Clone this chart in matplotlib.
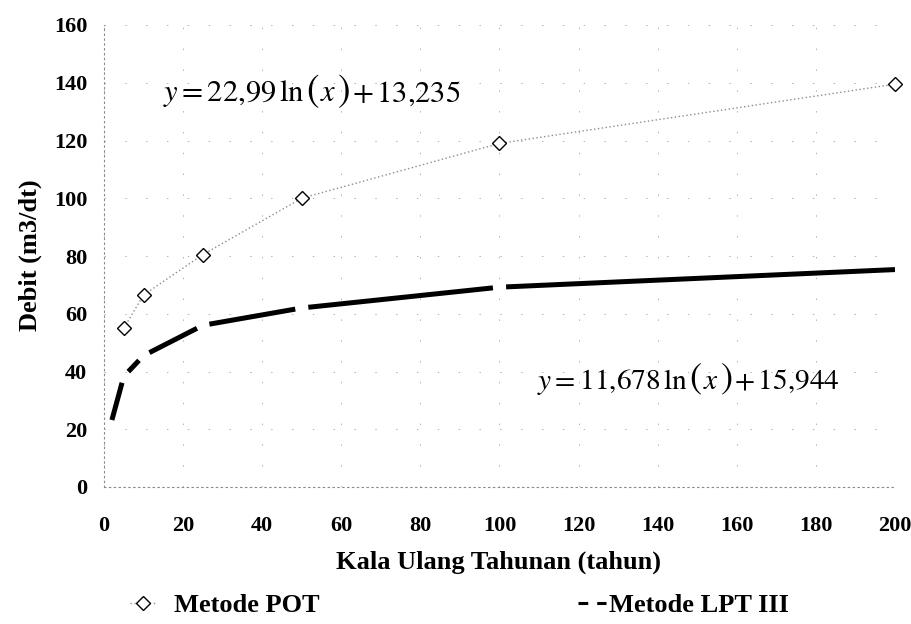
import matplotlib
matplotlib.use("Agg")
import matplotlib.pyplot as plt
from matplotlib.lines import Line2D
from matplotlib.offsetbox import TextArea, HPacker, AnnotationBbox
import numpy as np

# ---- data ----
pot_x = [5, 10, 25, 50, 100, 200]
pot_y = [55.0, 66.5, 80.5, 100.0, 119.0, 139.5]
lpt_x = [2, 5, 10, 25, 50, 100, 200]
lpt_y = [23.2, 38.3, 45.5, 56.0, 62.0, 69.2, 75.3]
x_ticks = [0, 20, 40, 60, 80, 100, 120, 140, 160, 180, 200]
y_ticks = [0, 20, 40, 60, 80, 100, 120, 140, 160]
eq_pot = ("22{,}99", "13{,}235")
eq_lpt = ("11{,}678", "15{,}944")

plt.rcParams["lines.scale_dashes"] = False
plt.rcParams["mathtext.fontset"] = "stix"

W, H, DPI = 911, 624, 100
X0, X1, Y0, Y1 = 104, 895, 487, 25
fig = plt.figure(figsize=(W / DPI, H / DPI), dpi=DPI)
ax = fig.add_axes([X0 / W, 1 - Y0 / H, (X1 - X0) / W, (Y0 - Y1) / H])
ax.set_xlim(0, 200)
ax.set_ylim(0, 160)

tick_font = dict(family="Liberation Serif", weight="bold", size=16)
label_font = dict(family="Liberation Serif", weight="bold", size=19)

# grid / spines
ax.set_xticks(x_ticks)
ax.set_yticks(y_ticks)
ax.grid(True, color="#b0b0b0", linestyle=(0, (1, 14)), linewidth=0.7)
for s in ["top", "right"]:
    ax.spines[s].set_visible(False)
for s in ["left", "bottom"]:
    ax.spines[s].set_color("#8a8a8a")
    ax.spines[s].set_linestyle((0, (1, 2.5)))
    ax.spines[s].set_linewidth(0.8)
ax.tick_params(length=0)
ax.tick_params(axis="y", pad=12)
ax.tick_params(axis="x", pad=21)
ax.set_xticklabels([str(v) for v in x_ticks], fontdict=tick_font)
ax.set_yticklabels([str(v) for v in y_ticks], fontdict=tick_font)

ax.set_xlabel("Kala Ulang Tahunan (tahun)", fontdict=label_font, va="center")
ax.xaxis.set_label_coords((499 - X0) / (X1 - X0), (Y0 - 562) / (Y0 - Y1))
ax.set_ylabel("Debit (m3/dt)", fontdict=label_font, va="center")
ax.yaxis.set_label_coords((30 - X0) / (X1 - X0), (Y0 - 255) / (Y0 - Y1))

# POT series: dotted grey line with open diamonds
ax.plot(pot_x, pot_y, color="#8c8c8c", linestyle=(0, (1, 1.8)), linewidth=1.0, zorder=3)
ax.plot(pot_x, pot_y, linestyle="none", marker="D", markersize=6.8,
        markerfacecolor="white", markeredgecolor="black", markeredgewidth=1.0,
        zorder=4, clip_on=False)

# LPT III series: thick black line with a gap around each interior point
pix = ax.transData.transform(np.column_stack([lpt_x, lpt_y]))
gap = 9.5  # points
n = len(lpt_x)
for i in range(n - 1):
    L = np.hypot(*(pix[i + 1] - pix[i])) * 72.0 / DPI
    s = 0.0 if i == 0 else gap / 2
    e = 0.0 if i == n - 2 else gap / 2
    on = L - s - e
    off = max(s + e, 0.01)
    ax.plot(lpt_x[i:i + 2], lpt_y[i:i + 2], color="black", linewidth=3.6,
            linestyle=((on + e) % (on + off), (on, off)), solid_capstyle="butt",
            dash_capstyle="butt", zorder=5)


# equations (large parentheses like the reference)
def equation(a, b, xy, fs):
    tp = dict(fontsize=fs, color="black")
    pp = dict(fontsize=fs * 1.23, color="black", family="STIXGeneral")
    parts = [
        TextArea(r"$y = %s\,\mathrm{ln}$" % a, textprops=tp),
        TextArea("(", textprops=pp),
        TextArea(r"$x$", textprops=tp),
        TextArea(")", textprops=pp),
        TextArea(r"$+\,%s$" % b, textprops=tp),
    ]
    box = HPacker(children=parts, align="baseline", pad=0, sep=1)
    ab = AnnotationBbox(box, xy, xycoords="data", box_alignment=(0, 0.5),
                        frameon=False, pad=0)
    ax.add_artist(ab)


equation(*eq_pot, (14.9, 136.8), 22)
equation(*eq_lpt, (109.5, 37.0), 21.2)

# legends
h1 = Line2D([], [], color="#8c8c8c", linestyle=(0, (1, 1.8)), linewidth=1.0,
            marker="D", markersize=6.8, markerfacecolor="white",
            markeredgecolor="black", markeredgewidth=1.0)
h2 = Line2D([], [], color="black", linestyle=(0, (7, 6.5)), linewidth=2.2)
leg_prop = dict(family="Liberation Serif", weight="bold", size=19)
fig.legend(handles=[h1], labels=["Metode POT"], loc="center left",
           bbox_to_anchor=(130 / W, 1 - 605 / H), frameon=False, prop=leg_prop,
           handlelength=1.0, handletextpad=0.65, borderpad=0, borderaxespad=0)
fig.legend(handles=[h2], labels=["Metode LPT III"], loc="center left",
           bbox_to_anchor=(578 / W, 1 - 605 / H), frameon=False, prop=leg_prop,
           handlelength=1.07, handletextpad=0.1, borderpad=0, borderaxespad=0)

fig.savefig("out.png", dpi=DPI)
